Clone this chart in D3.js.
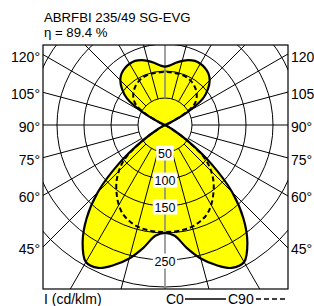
<!DOCTYPE html>
<html><head><meta charset="utf-8">
<script src="https://cdn.jsdelivr.net/npm/d3@7/dist/d3.min.js"></script>
<style>
body{margin:0;background:#fff}
svg{display:block}
text{font-family:"Liberation Sans",Arial,Helvetica,sans-serif;fill:#000}
</style>
</head><body>
<script>
// ---- data ----
const titleText = "ABRFBI 235/49 SG-EVG";
const effText = "η = 89.4 %";
const unitText = "I (cd/klm)";
const gammas = [0,5,10,15,20,25,30,35,40,45,50,55,60,65,70,75,80,85,90,95,100,105,110,115,120,125,130,135,140,145,150,155,160,165,170,175,180];
const c0Values = [200,206,231,256,276,292,293,266,226,176,112,52,14,2,0,0,0,0,0,0,0,0,0,10,48,86,104,117,125,129,131,131,128,123,117,111,108];
const c90Values = [198,198,197,195,190,183,171,156,140,121,96,50,12,2,0,0,0,0,0,0,0,0,0,12,42,66,76,83,88,92,95,97,98,98,98,98,98];
const ringValues = [50,100,150,200,250,300];
const ringLabels = [50,100,150,250];
const spokeAngles = [0,15,30,45,60,75,90,105,120,135,150,165,180];
const angleLabelsLeft = ["120°","105°","90°","75°","60°","45°"];
const angleLabelsRight = ["120","105","90°","75°","60°","45°"];
const angleLabelValues = [120,105,90,75,60,45];
const legendNames = ["C0","C90"];

// ---- layout ----
const W = 314, H = 306;
const frame = {x0:43, y0:45, x1:288, y1:289};
const cx = 165, cy = 125;
const rScale = d3.scaleLinear().domain([0,300]).range([0,162]);
const rad = d => d*Math.PI/180;

const svg = d3.select("body").append("svg").attr("width",W).attr("height",H);
const defs = svg.append("defs");
defs.append("clipPath").attr("id","fc").append("rect")
  .attr("x",frame.x0).attr("y",frame.y0)
  .attr("width",frame.x1-frame.x0).attr("height",frame.y1-frame.y0);

const g = svg.append("g").attr("clip-path","url(#fc)");
const polar = g.append("g").attr("transform",`translate(${cx},${cy})`);

function loop(values){
  const pts = [];
  gammas.forEach((gm,i)=>pts.push([Math.PI-rad(gm), rScale(values[i])]));
  for(let i=gammas.length-2;i>=1;i--) pts.push([Math.PI+rad(gammas[i]), rScale(values[i])]);
  return pts;
}
const line = d3.lineRadial().angle(d=>d[0]).radius(d=>d[1]).curve(d3.curveCatmullRomClosed.alpha(0.5));

// yellow fill
polar.append("path").attr("d",line(loop(c0Values))).attr("fill","#ffff00").attr("stroke","none");

// rings
polar.selectAll("circle.ring").data(ringValues).join("circle")
  .attr("r",d=>rScale(d)).attr("fill","none").attr("stroke","#000").attr("stroke-width",1);

// spokes
const spokes = [];
spokeAngles.forEach(a=>{
  spokes.push(a);
  if(a!==0 && a!==180) spokes.push(-a);
});
polar.selectAll("line.spoke").data(spokes).join("line")
  .attr("x1",d=>rScale(50)*Math.sin(rad(d))).attr("y1",d=>rScale(50)*Math.cos(rad(d)))
  .attr("x2",d=>400*Math.sin(rad(d))).attr("y2",d=>400*Math.cos(rad(d)))
  .attr("stroke",d=>(d===0||d===180)?"#8a8a8a":"#000")
  .attr("stroke-width",d=>(d===0||d===180)?1.6:1);

// curves
polar.append("path").attr("d",line(loop(c90Values))).attr("fill","none")
  .attr("stroke","#000").attr("stroke-width",2).attr("stroke-dasharray","5,3");
polar.append("path").attr("d",line(loop(c0Values))).attr("fill","none")
  .attr("stroke","#000").attr("stroke-width",2.2);

// ring labels
const rl = polar.selectAll("g.rl").data(ringLabels).join("g")
  .attr("transform",d=>`translate(0,${rScale(d)+1})`);
rl.append("rect").attr("x",d=>-(String(d).length*6.8+4)/2).attr("y",-7.5)
  .attr("width",d=>String(d).length*6.8+4).attr("height",15).attr("fill","#fff");
rl.append("text").attr("text-anchor","middle").attr("dy","0.36em")
  .style("font-size","12.5px").text(d=>d);

// frame
svg.append("rect").attr("x",frame.x0).attr("y",frame.y0)
  .attr("width",frame.x1-frame.x0).attr("height",frame.y1-frame.y0)
  .attr("fill","none").attr("stroke","#000").attr("stroke-width",1.2);

// angle labels
const labY = a => cy + (cx-frame.x0)/Math.tan(rad(a));
angleLabelValues.forEach((a,i)=>{
  const y = labY(a) + 2;
  svg.append("text").attr("x",40).attr("y",y).attr("dy","0.36em").attr("text-anchor","end")
    .style("font-size","14px").text(angleLabelsLeft[i]);
  svg.append("text").attr("x",291).attr("y",y).attr("dy","0.36em").attr("text-anchor","start")
    .style("font-size","14px").text(angleLabelsRight[i]);
});

// title
svg.append("text").attr("x",44).attr("y",22).style("font-size","13.2px").text(titleText);
svg.append("text").attr("x",44).attr("y",37).style("font-size","13.2px").text(effText);

// bottom
svg.append("text").attr("x",44).attr("y",304).style("font-size","14px").text(unitText);
svg.append("text").attr("x",166).attr("y",304).style("font-size","14px").text(legendNames[0]);
svg.append("line").attr("x1",185).attr("x2",226).attr("y1",299).attr("y2",299).attr("stroke","#000").attr("stroke-width",1.5);
svg.append("text").attr("x",228).attr("y",304).style("font-size","14px").text(legendNames[1]);
svg.append("line").attr("x1",256).attr("x2",288).attr("y1",299).attr("y2",299).attr("stroke","#000").attr("stroke-width",1.5).attr("stroke-dasharray","5,3");
</script>
</body></html>
